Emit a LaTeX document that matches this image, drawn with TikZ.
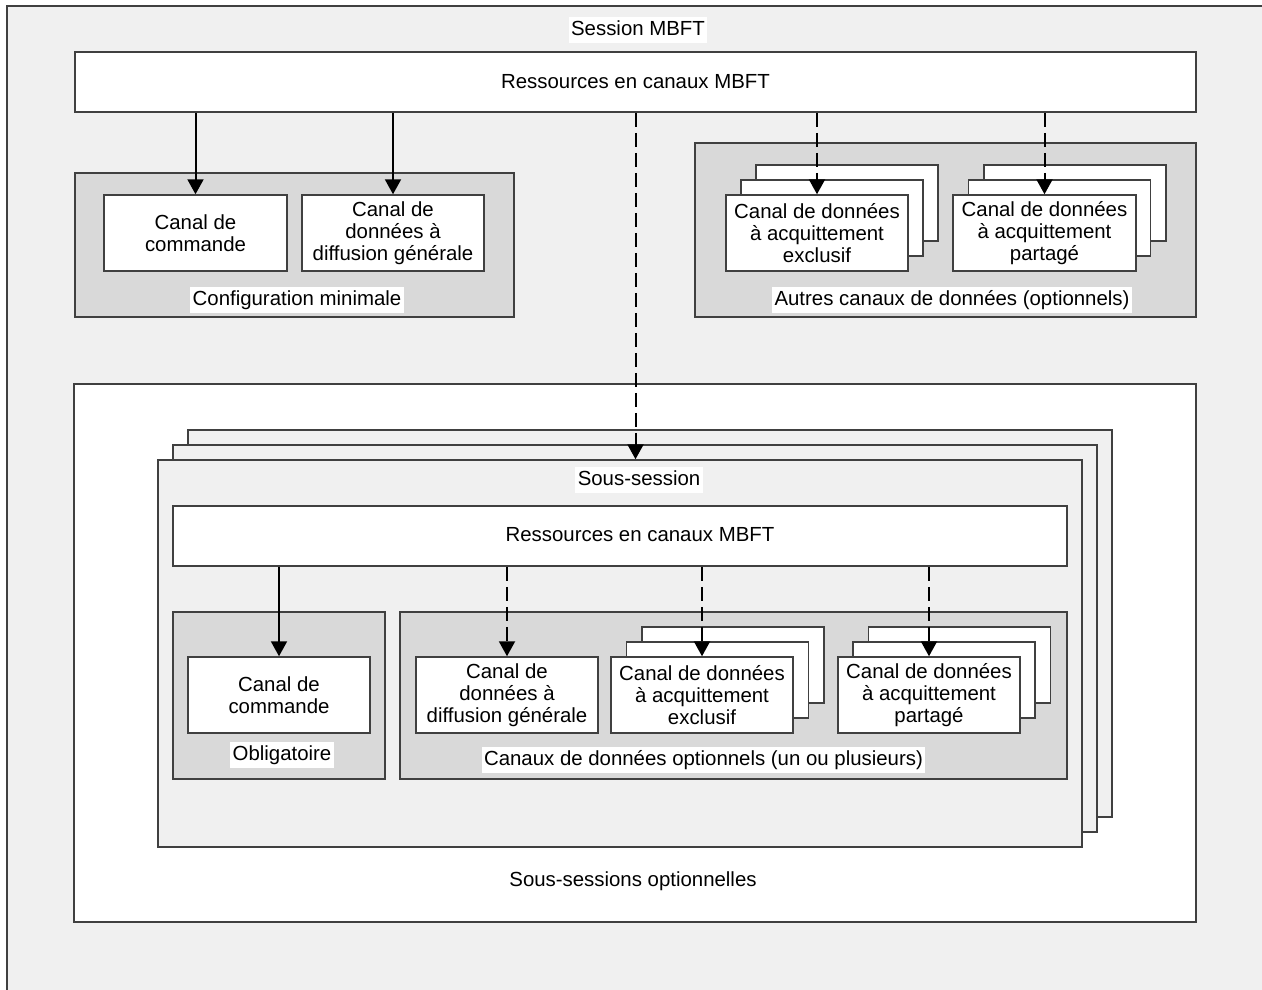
\documentclass[tikz,border=0pt]{standalone}
\usepackage{fontspec}
\setmainfont{Liberation Sans}
\usetikzlibrary{arrows.meta}
\definecolor{bgc}{HTML}{F0F0F0}
\definecolor{grp}{HTML}{D9D9D9}
\definecolor{edgec}{HTML}{404040}
\begin{document}
\begin{tikzpicture}[x=1pt,y=-1pt,
  font=\fontsize{20.4}{22}\selectfont,
  chan/.style={draw=edgec,line width=1.5pt,fill=white,align=center,
    minimum width=182pt,minimum height=76pt,inner sep=0pt},
  grpbox/.style={draw=edgec,line width=1.5pt,fill=grp,inner sep=0pt},
  whitebox/.style={draw=edgec,line width=1.5pt,fill=white,inner sep=0pt},
  ssbox/.style={draw=edgec,line width=1.5pt,fill=bgc,inner sep=0pt,
    minimum width=924pt,minimum height=387pt},
  lbl/.style={fill=white,inner xsep=2.5pt,inner ysep=3pt,text height=15pt,text depth=5pt},
  plainlbl/.style={inner sep=0pt},
  arr/.style={-{Triangle[length=15pt,width=16pt]},line width=2pt,black},
  dsh/.style={arr,dash pattern=on 14pt off 6pt}]
\useasboundingbox (0,0) rectangle (1262,989);
\clip (0,0) rectangle (1262,989);
\draw[draw=edgec,line width=1.5pt,fill=bgc] (7,6) rectangle (1290,1010);

% top level
\node[lbl] (sessionlbl) at (638,30) {Session MBFT};
\node[whitebox,minimum width=1121pt,minimum height=60pt] (res1) at (635.5,82) {Ressources en canaux MBFT};

% configuration minimale
\node[grpbox,minimum width=439pt,minimum height=144pt] (cfg) at (294.5,245) {};
\node[chan,minimum width=183pt] (cmd1) at (195.5,233) {Canal de\\commande};
\node[chan] (diff1) at (393,233) {Canal de\\données à\\diffusion générale};
\node[lbl] (cfglbl) at (297,300) {Configuration minimale};

% autres canaux
\node[grpbox,minimum width=501pt,minimum height=174pt] (autres) at (945.5,230) {};
\node[chan] (excl1c) at (847,203) {};
\node[chan] (excl1b) at (832,218) {};
\node[chan] (excl1) at (817,233) {Canal de données\\à acquittement\\exclusif};
\node[chan] (part1c) at (1075,203) {};
\node[chan] (part1b) at (1059.5,218) {};
\node[chan,minimum width=183pt] (part1) at (1044.5,233) {Canal de données\\à acquittement\\partagé};
\node[lbl] (autreslbl) at (952,300) {Autres canaux de données (optionnels)};

% sous-sessions optionnelles
\node[whitebox,minimum width=1122pt,minimum height=538pt] (ssopt) at (635,653) {};
\node[plainlbl] (ssoptlbl) at (633,881) {Sous-sessions optionnelles};
\node[ssbox] (ssc) at (650,623.5) {};
\node[ssbox] (ssb) at (635,638.5) {};
\node[ssbox] (ssf) at (620,653.5) {};
\node[lbl] (sslbl) at (639,480) {Sous-session};
\node[whitebox,minimum width=894pt,minimum height=60pt] (res2) at (620,536) {};
\node[plainlbl] (res2txt) at (640,535) {Ressources en canaux MBFT};

% obligatoire
\node[grpbox,minimum width=212pt,minimum height=167pt] (oblig) at (279,695.5) {};
\node[chan] (cmd2) at (279,695) {Canal de\\commande};
\node[lbl] (obliglbl) at (282,755) {Obligatoire};

% canaux optionnels
\node[grpbox,minimum width=667pt,minimum height=167pt] (opt) at (733.5,695.5) {};
\node[chan] (diff2) at (507,695) {Canal de\\données à\\diffusion générale};
\node[chan] (excl2c) at (733,665) {};
\node[chan] (excl2b) at (717.5,680) {};
\node[chan] (excl2) at (702,695) {Canal de données\\à acquittement\\exclusif};
\node[chan] (part2c) at (959.5,665) {};
\node[chan] (part2b) at (944,680) {};
\node[chan] (part2) at (929,695) {Canal de données\\à acquittement\\partagé};
\node[lbl] (optlbl) at (703.5,760) {Canaux de données optionnels (un ou plusieurs)};

% connectors
\draw[arr] (cmd1.north |- res1.south) -- (cmd1.north);
\draw[arr] (diff1.north |- res1.south) -- (diff1.north);
\draw[dsh] (excl1.north |- res1.south) -- (excl1.north);
\draw[dsh] (part1.north |- res1.south) -- (part1.north);
\draw[dsh] (res1.south) -- (res1.south |- ssf.north);
\draw[arr] (cmd2.north |- res2.south) -- (cmd2.north);
\draw[dsh] (diff2.north |- res2.south) -- (diff2.north);
\draw[dsh] (excl2.north |- res2.south) -- (excl2.north);
\draw[dsh] (part2.north |- res2.south) -- (part2.north);
\end{tikzpicture}
\end{document}
